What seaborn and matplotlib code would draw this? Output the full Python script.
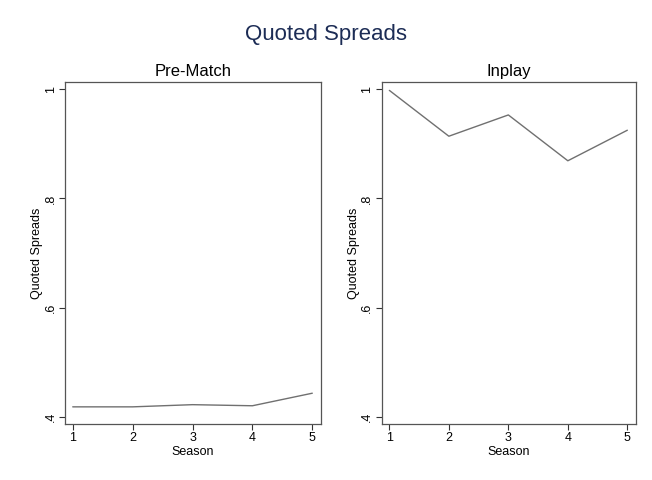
import matplotlib
matplotlib.use("Agg")
import matplotlib.pyplot as plt
import seaborn as sns
import pandas as pd

sns.set_theme(style="white")
plt.rcParams["font.family"] = ["Liberation Sans", "DejaVu Sans"]

seasons = [1, 2, 3, 4, 5]
pre_match = [0.418, 0.418, 0.422, 0.420, 0.443]
inplay = [0.998, 0.914, 0.953, 0.869, 0.925]
panel_titles = ["Pre-Match", "Inplay"]
y_ticks = [0.4, 0.6, 0.8, 1.0]
y_tick_labels = [".4", ".6", ".8", "1"]

df = pd.DataFrame({
    "Season": seasons * 2,
    "Quoted Spreads": pre_match + inplay,
    "Market": [panel_titles[0]] * 5 + [panel_titles[1]] * 5,
})

fig = plt.figure(figsize=(6.52, 4.80), dpi=100)
positions = [[0.0997, 0.1167, 0.3926, 0.7125], [0.5854, 0.1167, 0.3900, 0.7125]]

for pos, title in zip(positions, panel_titles):
    ax = fig.add_axes(pos)
    sub = df[df["Market"] == title]
    sns.lineplot(data=sub, x="Season", y="Quoted Spreads", ax=ax,
                 color="#707070", linewidth=1.0)
    ax.set_xlim(0.871, 5.145)
    ax.set_ylim(0.3866, 1.0134)
    ax.set_xticks(seasons)
    ax.set_xticklabels([str(s) for s in seasons], fontsize=9, color="black")
    ax.set_yticks(y_ticks)
    ax.set_yticklabels(y_tick_labels, fontsize=9, rotation=90, va="center",
                       color="black")
    ax.tick_params(axis="both", direction="out", length=4, width=0.8,
                   color="#333333", pad=2, bottom=True, left=True)
    for sp in ax.spines.values():
        sp.set_color("#555555")
        sp.set_linewidth(0.9)
    ax.set_xlabel("Season", fontsize=9, labelpad=1, color="black")
    ax.set_ylabel("Quoted Spreads", fontsize=9, labelpad=1, color="black")
    ax.set_title(title, fontsize=12, pad=4, color="black")

fig.text(0.5, 0.928, "Quoted Spreads", ha="center", va="center",
         fontsize=16, color="#1c2c55")

fig.savefig("out.png", dpi=100, facecolor="white")
